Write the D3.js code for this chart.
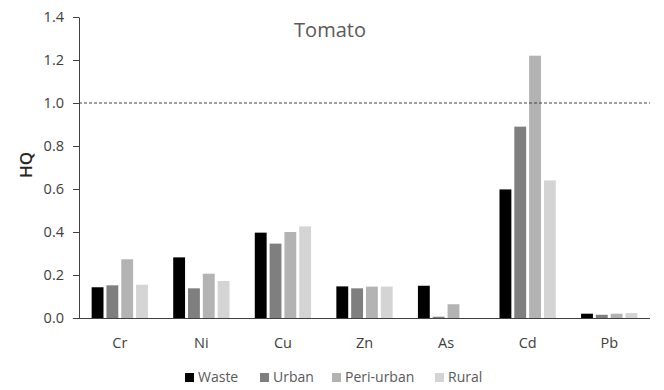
<!DOCTYPE html>
<html>
<head>
<meta charset="utf-8">
<script src="https://cdn.jsdelivr.net/npm/d3@7"></script>
<style>
  html, body { margin: 0; padding: 0; background: #fff; }
  svg { display: block; }
  text { font-family: "Open Sans", "Noto Sans", sans-serif; }
</style>
</head>
<body>
<div id="chart"></div>
<script>
// Hazard quotient (HQ) of heavy metals in tomato, by irrigation source
const categories = ["Cr", "Ni", "Cu", "Zn", "As", "Cd", "Pb"];
const seriesNames = ["Waste", "Urban", "Peri-urban", "Rural"];
const waste     = [0.143, 0.282, 0.397, 0.147, 0.150, 0.598, 0.020];
const urban     = [0.152, 0.138, 0.346, 0.138, 0.006, 0.890, 0.015];
const periUrban = [0.273, 0.206, 0.400, 0.146, 0.064, 1.220, 0.020];
const rural     = [0.155, 0.172, 0.426, 0.146, 0.000, 0.640, 0.023];
const yTicks = [0, 0.2, 0.4, 0.6, 0.8, 1.0, 1.2, 1.4];
const threshold = 1.0;

const seriesValues = [waste, urban, periUrban, rural];
const colors = ["#000000", "#7f7f7f", "#b3b3b3", "#d4d4d4"];

const W = 664, H = 390;
const margin = { top: 17, right: 14, bottom: 72, left: 79 };
const iw = W - margin.left - margin.right;
const ih = H - margin.top - margin.bottom;

const svg = d3.select("#chart").append("svg")
  .attr("width", W).attr("height", H);
const g = svg.append("g").attr("transform", `translate(${margin.left},${margin.top})`);

const x0 = d3.scaleBand().domain(categories).range([0, iw]).paddingInner(0.31).paddingOuter(0.155);
const x1 = d3.scaleBand().domain(seriesNames).range([0, x0.bandwidth()]).paddingInner(0.2);
const y = d3.scaleLinear().domain([0, 1.4]).range([ih, 0]);

// bars
const rows = categories.map((c, i) => ({
  cat: c,
  vals: seriesNames.map((s, j) => ({ s, v: seriesValues[j][i], color: colors[j] }))
}));

g.selectAll("g.grp").data(rows).join("g")
  .attr("class", "grp")
  .attr("transform", d => `translate(${x0(d.cat)},0)`)
  .selectAll("rect").data(d => d.vals).join("rect")
  .attr("x", d => x1(d.s))
  .attr("width", x1.bandwidth())
  .attr("y", d => y(d.v))
  .attr("height", d => ih - y(d.v))
  .attr("fill", d => d.color);

// y axis
const yAxis = g.append("g")
  .call(d3.axisLeft(y).tickValues(yTicks).tickFormat(d3.format(".1f")).tickSize(6).tickSizeOuter(0));
yAxis.select(".domain").attr("stroke", "#404040");
yAxis.selectAll(".tick line").attr("stroke", "#404040");
yAxis.selectAll(".tick text").attr("fill", "#404040").attr("font-size", 14.5)
  .attr("x", -15).attr("font-family", "'Open Sans', sans-serif");

// x axis
const xAxis = g.append("g").attr("transform", `translate(0,${ih})`)
  .call(d3.axisBottom(x0).tickSize(0).tickSizeOuter(0));
xAxis.select(".domain").attr("stroke", "#404040").attr("d", `M0,0.5H${iw}`);
xAxis.selectAll(".tick text").attr("fill", "#404040").attr("font-size", 14.5)
  .attr("dy", "1.85em").attr("font-family", "'Open Sans', sans-serif");

// reference line at HQ = 1
g.append("line")
  .attr("x1", 0).attr("x2", iw)
  .attr("y1", y(threshold)).attr("y2", y(threshold))
  .attr("stroke", "#404040").attr("stroke-width", 1).attr("stroke-dasharray", "3,2");

// title
svg.append("text")
  .attr("x", 330).attr("y", 37)
  .attr("text-anchor", "middle")
  .attr("font-size", 20).attr("fill", "#595959")
  .text("Tomato");

// y axis title
svg.append("text")
  .attr("transform", `translate(32,165) rotate(-90)`)
  .attr("text-anchor", "middle")
  .attr("font-size", 17).attr("font-weight", 600).attr("fill", "#262626")
  .text("HQ");

// legend
const legendX = [185, 260, 332, 435];
const legend = svg.append("g").selectAll("g").data(seriesNames).join("g")
  .attr("transform", (d, i) => `translate(${legendX[i]},372)`);
legend.append("rect").attr("width", 9).attr("height", 9).attr("y", 1)
  .attr("fill", (d, i) => colors[i]);
legend.append("text").attr("x", 13).attr("y", 10)
  .attr("font-size", 14).attr("fill", "#595959")
  .text(d => d);
</script>
</body>
</html>
